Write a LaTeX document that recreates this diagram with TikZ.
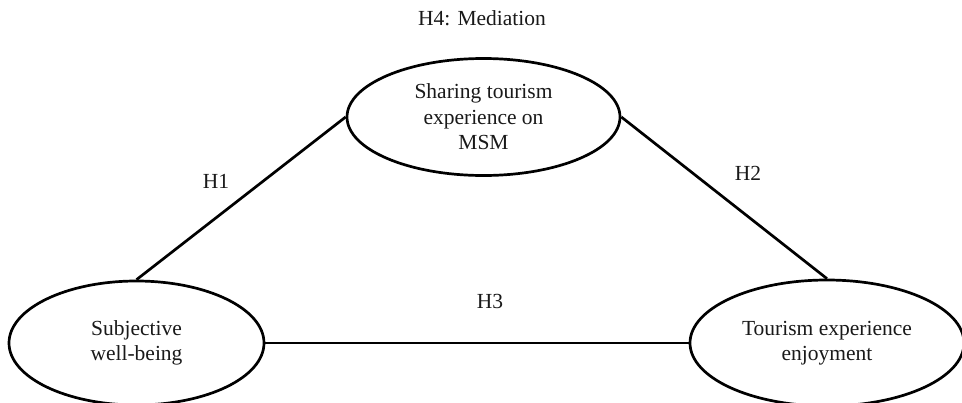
\documentclass[tikz,border=0pt]{standalone}
\usepackage{fontspec}
\setmainfont{Liberation Serif}
\usetikzlibrary{shapes.geometric}
\begin{document}
\begin{tikzpicture}[x=1pt,y=-1pt,
  construct/.style={draw=black, line width=2.7pt, ellipse, inner sep=0pt, align=center,
    font=\fontsize{21.5}{25.5}\selectfont, text=black!90},
  hyplabel/.style={anchor=base, inner sep=0pt, font=\fontsize{21.5}{25.5}\selectfont, text=black!90},
  link/.style={line width=2.7pt, draw=black}]
\useasboundingbox (0,0) rectangle (962,402);
\node[construct, minimum width=273pt, minimum height=117pt] (share) at (483.5,117) {Sharing tourism\\experience on\\MSM};
\node[construct, minimum width=255pt, minimum height=124pt] (swb) at (136.5,343) {Subjective\\well-being};
\node[construct, minimum width=274pt, minimum height=126pt] (tee) at (827,343) {Tourism experience\\enjoyment};
\draw[link] (swb.north) -- (share.west);
\draw[link] (share.east) -- (tee.north);
\draw[link] (swb.east) -- (tee.west);
\node[hyplabel] (h4) at (482,25) {H4: Mediation};
\node[hyplabel] (h1) at (216,188) {H1};
\node[hyplabel] (h2) at (748,180) {H2};
\node[hyplabel] (h3) at (490,308) {H3};
\end{tikzpicture}
\end{document}
